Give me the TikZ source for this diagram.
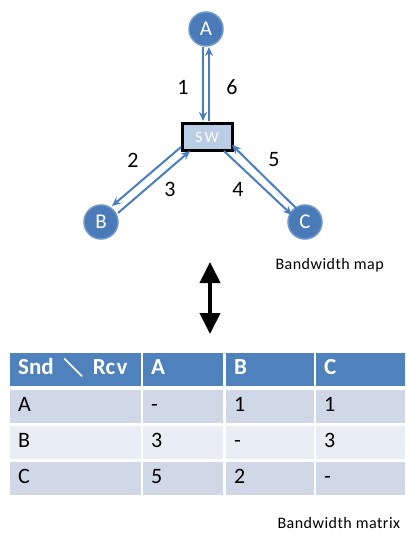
\documentclass[tikz,border=0pt]{standalone}
\usepackage{fontspec}
\setmainfont{Carlito}
\newfontfamily\cjk[FakeBold=4]{Noto Sans CJK JP}
\usetikzlibrary{arrows.meta}
\definecolor{nodeblue}{HTML}{4A7AB8}
\definecolor{nodeedge}{HTML}{6F97CB}
\definecolor{arrblue}{HTML}{4A7EC2}
\definecolor{swfill}{HTML}{B9CDE5}
\definecolor{hdr}{HTML}{4F81BD}
\definecolor{rowdark}{HTML}{D0D8E8}
\definecolor{rowlight}{HTML}{E9EDF4}
\tikzset{
  x=1pt, y=-1pt,
  host/.style={circle, fill=nodeblue, draw=nodeedge, line width=1.5pt, minimum size=34pt, inner sep=0pt, text=white, font=\fontsize{21}{21}\selectfont},
  swbox/.style={rectangle, fill=swfill, draw=black, line width=3pt, minimum width=50pt, minimum height=27pt, inner sep=0pt, text=white, font=\fontsize{16}{16}\selectfont\addfontfeatures{LetterSpace=15}},
  link/.style={draw=arrblue, line width=2pt, -{Stealth[length=9pt,width=8pt]}},
  lbl/.style={font=\fontsize{22}{22}\selectfont, text=black},
  cell/.style={rectangle, minimum height=33pt, inner sep=0pt, anchor=north west, text height=14pt, text depth=4pt, align=left},
  hcell/.style={cell, fill=hdr, text=white, font=\bfseries\fontsize{23}{23}\selectfont},
  dcell/.style={cell, text=black, font=\fontsize{22}{22}\selectfont},
  caption/.style={font=\fontsize{16}{16}\selectfont\addfontfeatures{LetterSpace=3}, anchor=west}
}
\begin{document}
\begin{tikzpicture}
\useasboundingbox (0,0) rectangle (406,534);
% nodes
\node[host] (A) at (206,29) {A};
\node[host] (B) at (101,222) {B};
\node[host] (C) at (305,222) {C};
\node[swbox] (SW) at (207,137) {SW};
% anchor coordinates
\coordinate (a1) at (203,47);
\coordinate (s1) at (203,121);
\coordinate (a6) at (209,47);
\coordinate (s6) at (209,121);
\coordinate (s2) at (181,147);
\coordinate (b2) at (112,206);
\coordinate (b3) at (118,213);
\coordinate (s3) at (190,151);
\coordinate (s4) at (224,151);
\coordinate (c4) at (292,215);
\coordinate (c5) at (297,209);
\coordinate (s5) at (232,145);
\draw[link] (a1) -- (s1);
\draw[link] (s6) -- (a6);
\draw[link] (s2) -- (b2);
\draw[link] (b3) -- (s3);
\draw[link] (s4) -- (c4);
\draw[link] (c5) -- (s5);
\node[lbl] (l1) at (183,87) {1};
\node[lbl] (l6) at (232,87) {6};
\node[lbl] (l2) at (133,160) {2};
\node[lbl] (l3) at (170,189) {3};
\node[lbl] (l4) at (238,189) {4};
\node[lbl] (l5) at (274,160) {5};
\node[caption] (map) at (272,265) {Bandwidth map};
% double arrow
\coordinate (dtop) at (210,262);
\coordinate (dbot) at (210,334);
\draw[line width=4pt, {Triangle[length=21pt,width=20pt]}-{Triangle[length=21pt,width=20pt]}] (dtop) -- (dbot);
% table
\node[hcell, minimum width=131pt, text width=115pt] (h0) at (10,353) {Snd\hspace{10pt}{\cjk\fontsize{19}{19}\selectfont ＼}\hspace{10pt}R{\addfontfeatures{LetterSpace=6}cv}};
\node[hcell, minimum width=80pt, text width=64pt] (h1) at (143,353) {A};
\node[hcell, minimum width=88pt, text width=72pt] (h2) at (226,353) {B};
\node[hcell, minimum width=89pt, text width=73pt] (h3) at (316,353) {C};
\foreach \r/\y/\f/\a/\b/\c/\d in {1/390/rowdark/A/-/1/1, 2/426/rowlight/B/3/-/3, 3/462/rowdark/C/5/2/-}{
  \node[dcell, fill=\f, minimum width=131pt, text width=115pt] (r\r c0) at (10,\y) {\a};
  \node[dcell, fill=\f, minimum width=80pt, text width=64pt] (r\r c1) at (143,\y) {\b};
  \node[dcell, fill=\f, minimum width=88pt, text width=72pt] (r\r c2) at (226,\y) {\c};
  \node[dcell, fill=\f, minimum width=89pt, text width=73pt] (r\r c3) at (316,\y) {\d};
}
\node[caption] (mat) at (274,523) {Bandwidth matrix};
\end{tikzpicture}
\end{document}
